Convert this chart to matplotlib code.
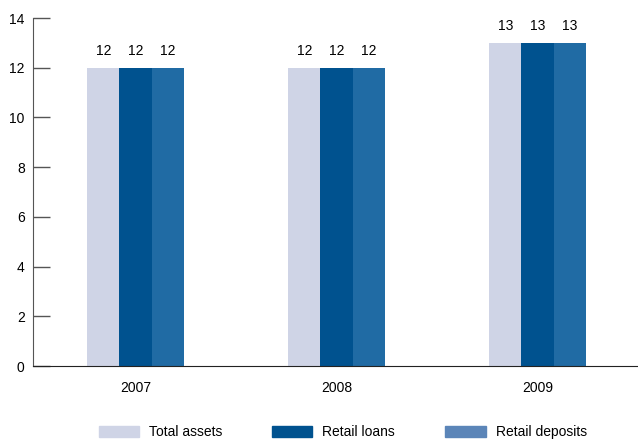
import matplotlib.pyplot as plt
import matplotlib.patches as mpatches
import numpy as np

plt.rcParams['font.family'] = ['Liberation Sans', 'DejaVu Sans']

years = ['2007', '2008', '2009']
series = ['Total assets', 'Retail loans', 'Retail deposits']
total_assets = [12, 12, 13]
retail_loans = [12, 12, 13]
retail_deposits = [12, 12, 13]

bar_colors = ['#cfd4e6', '#00528f', '#206ba4']
legend_colors = ['#cfd4e6', '#00528f', '#5b85b8']

fig = plt.figure(figsize=(6.38, 4.41), dpi=100)
ax = fig.add_axes([0.0517, 0.170, 0.9483, 0.789])

x = np.arange(len(years))
w = 0.16
for i, vals in enumerate([total_assets, retail_loans, retail_deposits]):
    bars = ax.bar(x + (i - 1) * w, vals, width=w, color=bar_colors[i], linewidth=0)
    for b, v in zip(bars, vals):
        ax.annotate(str(v), (b.get_x() + b.get_width() / 2, v), xytext=(0, 7),
                    textcoords='offset points', ha='center', va='bottom', fontsize=10)

ax.set_xlim(-0.51, 2.5)
ax.set_ylim(0, 14)
ax.set_yticks(range(0, 15, 2))
ax.set_xticks(x)
ax.set_xticklabels(years, fontsize=10)
ax.tick_params(axis='x', length=0, pad=11)
ax.tick_params(axis='y', direction='in', length=12, width=1, color='#555555', labelsize=10, pad=6)
for s in ['top', 'right']:
    ax.spines[s].set_visible(False)
ax.spines['left'].set_color('#555555')
ax.spines['bottom'].set_color('#222222')

handles = [mpatches.Patch(color=c, label=l) for c, l in zip(legend_colors, series)]
fig.legend(handles=handles, loc='center', bbox_to_anchor=(0.537, 0.02), ncol=3, frameon=False,
           fontsize=10, handlelength=2.9, handleheight=0.9, handletextpad=0.72, columnspacing=3.6)

fig.savefig('out.png', dpi=100)
